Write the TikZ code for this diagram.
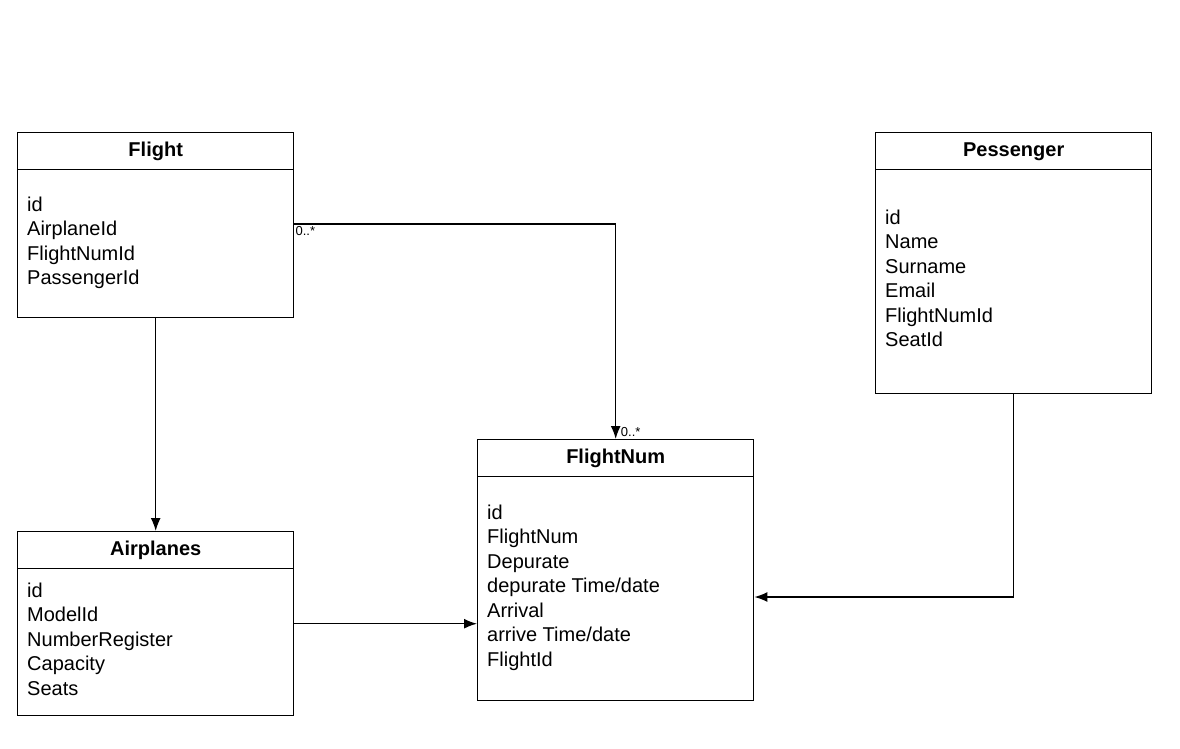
\documentclass[tikz,border=0pt]{standalone}
\usepackage{fontspec}
\setmainfont{Liberation Sans}
\usetikzlibrary{arrows.meta,positioning}
\tikzset{>={Latex[length=13pt,width=10pt]}}
\tikzset{
  classbox/.style={draw,line width=1.4pt,anchor=north west,inner sep=0pt},
  classtitle/.style={font=\fontsize{20}{22}\selectfont\bfseries,anchor=base,inner sep=0pt},
  attr/.style={font=\fontsize{20}{22}\selectfont,anchor=base west,inner sep=0pt},
  mult/.style={font=\fontsize{13}{14}\selectfont,inner sep=1pt},
  conn/.style={line width=1.4pt}
}
% name, x, y, height, title, first baseline, attributes
\newcommand{\umlclass}[7]{%
  \node[classbox,minimum width=276pt,minimum height=#4pt] (#1) at (#2,#3) {};
  \draw[conn] ([yshift=-37.5pt]#1.north west) -- ([yshift=-37.5pt]#1.north east);
  \node[classtitle] (#1-title) at ([yshift=-24pt]#1.north) {#5};
  \foreach \a [count=\i] in {#7}
    \node[attr] (#1-\i) at ([xshift=10pt,yshift={-(#6pt+24.5pt*(\i-1))}]#1.north west) {\a};
}

\begin{document}
\begin{tikzpicture}[x=1pt,y=-1pt]
	\useasboundingbox (0,0) rectangle (1180,748);
	% classes
	\umlclass{flight}{17}{132}{185}{Flight}{79}{id,AirplaneId,FlightNumId,PassengerId}
	\umlclass{pass}{875}{132}{261}{Pessenger}{92}{id,Name,Surname,Email,FlightNumId,SeatId}
	\umlclass{fnum}{477}{439}{261}{FlightNum}{80}{id,FlightNum,Depurate,{depurate Time/date},Arrival,{arrive Time/date},FlightId}
	\umlclass{air}{17}{531}{184}{Airplanes}{66}{id,ModelId,NumberRegister,Capacity,Seats}
	% links
	\draw[conn,->] ([yshift=-92pt]flight.north east) -| (fnum.north);
	\node[mult,anchor=north west] (m-start) at ([yshift=-93pt]flight.north east) {0..*};
	\node[mult,anchor=south west] (m-end) at ([xshift=4pt,yshift=1pt]fnum.north) {0..*};
	\draw[conn,->] (flight.south) -- (air.north);
	\draw[conn,->] (air.east) -- (air.east -| fnum.west);
	\draw[conn,->] (pass.south) |- ([yshift=-158pt]fnum.north east);
\end{tikzpicture}
\end{document}
